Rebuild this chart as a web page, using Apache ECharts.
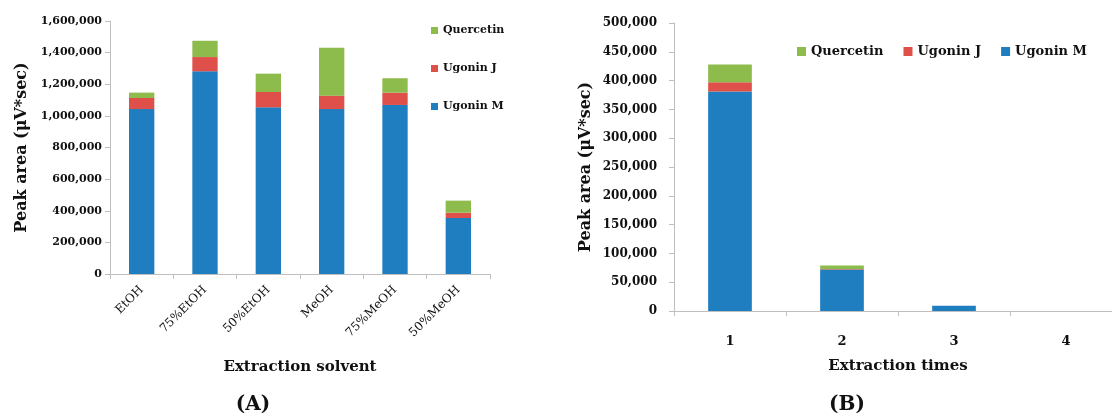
<!DOCTYPE html>
<html>
<head>
<meta charset="utf-8">
<script src="https://cdn.jsdelivr.net/npm/echarts@6/dist/echarts.min.js"></script>
<style>
  html, body { margin: 0; padding: 0; background: #fff; overflow: hidden; }
  /* panel B's category axis runs slightly past the right edge of the page */
  #chart { width: 1122px; height: 416px; }
</style>
</head>
<body>
<div id="chart"></div>
<script>
// Panel A: peak areas by extraction solvent
const solvents = ['EtOH', '75%EtOH', '50%EtOH', 'MeOH', '75%MeOH', '50%MeOH'];
const solventUgoninM = [1043000, 1282000, 1054000, 1043000, 1069000, 354000];
const solventUgoninJ = [70000, 90000, 97000, 85000, 78000, 34000];
const solventQuercetin = [34000, 103000, 116000, 303000, 91000, 76000];

// Panel B: peak areas by number of extraction
const extractionTimes = ['1', '2', '3', '4'];
const timesUgoninM = [381000, 72000, 9000, 0];
const timesUgoninJ = [16000, 1000, 0, 0];
const timesQuercetin = [31000, 6000, 0, 0];

const seriesNames = ['Quercetin', 'Ugonin J', 'Ugonin M'];
const COLORS = { 'Ugonin M': '#1f7ec0', 'Ugonin J': '#e0504b', 'Quercetin': '#8dbb4c' };

const FONT = 'DejaVu Serif';
const AXIS_GREY = '#bfbfbf';
const fmt = v => Number(v).toLocaleString('en-US');

function yAxisDef(gridIndex, max, interval, fontSize, margin) {
  return {
    type: 'value', gridIndex, min: 0, max, interval,
    name: 'Peak area (\u03bcV*sec)',
    nameLocation: 'middle', nameGap: 80,
    nameTextStyle: { fontFamily: FONT, fontWeight: 'bold', fontSize: 16, color: '#111' },
    axisLine: { show: true, lineStyle: { color: AXIS_GREY, width: 1 } },
    axisTick: { show: true, length: 5, lineStyle: { color: AXIS_GREY } },
    splitLine: { show: false },
    axisLabel: { formatter: fmt, fontFamily: FONT, fontWeight: 'bold', fontSize, color: '#111', margin }
  };
}

function bar(name, data, axisIndex, stack, gap) {
  return {
    name, type: 'bar', stack, data,
    xAxisIndex: axisIndex, yAxisIndex: axisIndex,
    barCategoryGap: gap,
    itemStyle: { color: COLORS[name] },
    emphasis: { disabled: true }
  };
}

const chart = echarts.init(document.getElementById('chart'), null, { renderer: 'canvas' });

chart.setOption({
  animation: false,
  backgroundColor: '#ffffff',
  grid: [
    { left: 110, top: 21, width: 380, height: 253 },
    { left: 674, top: 23, width: 448, height: 288 }
  ],
  legend: [
    {
      data: seriesNames, orient: 'vertical', left: 426, top: 20,
      itemGap: 27, itemWidth: 7, itemHeight: 7, itemGap: 27, icon: 'rect',
      textStyle: { fontFamily: FONT, fontWeight: 'bold', fontSize: 11, color: '#111' },
      selectedMode: false
    },
    {
      data: seriesNames, orient: 'horizontal', left: 792, top: 40,
      itemGap: 20, itemWidth: 9, itemHeight: 9, icon: 'rect',
      textStyle: { fontFamily: FONT, fontWeight: 'bold', fontSize: 13, color: '#111' },
      selectedMode: false
    }
  ],
  xAxis: [
    {
      type: 'category', gridIndex: 0, data: solvents,
      name: 'Extraction solvent', nameLocation: 'middle', nameGap: 86,
      nameTextStyle: { fontFamily: FONT, fontWeight: 'bold', fontSize: 15, color: '#111' },
      axisLine: { lineStyle: { color: AXIS_GREY } },
      axisTick: { show: true, length: 5, lineStyle: { color: AXIS_GREY } },
      axisLabel: { rotate: 45, interval: 0, fontFamily: FONT, fontSize: 12, color: '#111', margin: 14 }
    },
    {
      type: 'category', gridIndex: 1, data: extractionTimes,
      name: 'Extraction times', nameLocation: 'middle', nameGap: 48,
      nameTextStyle: { fontFamily: FONT, fontWeight: 'bold', fontSize: 15, color: '#111' },
      axisLine: { lineStyle: { color: AXIS_GREY } },
      axisTick: { show: true, length: 5, lineStyle: { color: AXIS_GREY } },
      axisLabel: { interval: 0, fontFamily: FONT, fontWeight: 'bold', fontSize: 13, color: '#111', margin: 24 }
    }
  ],
  yAxis: [
    yAxisDef(0, 1600000, 200000, 11, 8),
    yAxisDef(1, 500000, 50000, 12, 17)
  ],
  series: [
    bar('Ugonin M', solventUgoninM, 0, 'solvent', '60%'),
    bar('Ugonin J', solventUgoninJ, 0, 'solvent', '60%'),
    bar('Quercetin', solventQuercetin, 0, 'solvent', '60%'),
    bar('Ugonin M', timesUgoninM, 1, 'times', '61%'),
    bar('Ugonin J', timesUgoninJ, 1, 'times', '61%'),
    bar('Quercetin', timesQuercetin, 1, 'times', '61%')
  ],
  graphic: [
    {
      type: 'text', x: 253, y: 405,
      style: { text: '(A)', fontFamily: FONT, fontWeight: 'bold', fontSize: 20, fill: '#111', align: 'center', verticalAlign: 'middle' }
    },
    {
      type: 'text', x: 847, y: 405,
      style: { text: '(B)', fontFamily: FONT, fontWeight: 'bold', fontSize: 20, fill: '#111', align: 'center', verticalAlign: 'middle' }
    }
  ]
});
</script>
</body>
</html>
